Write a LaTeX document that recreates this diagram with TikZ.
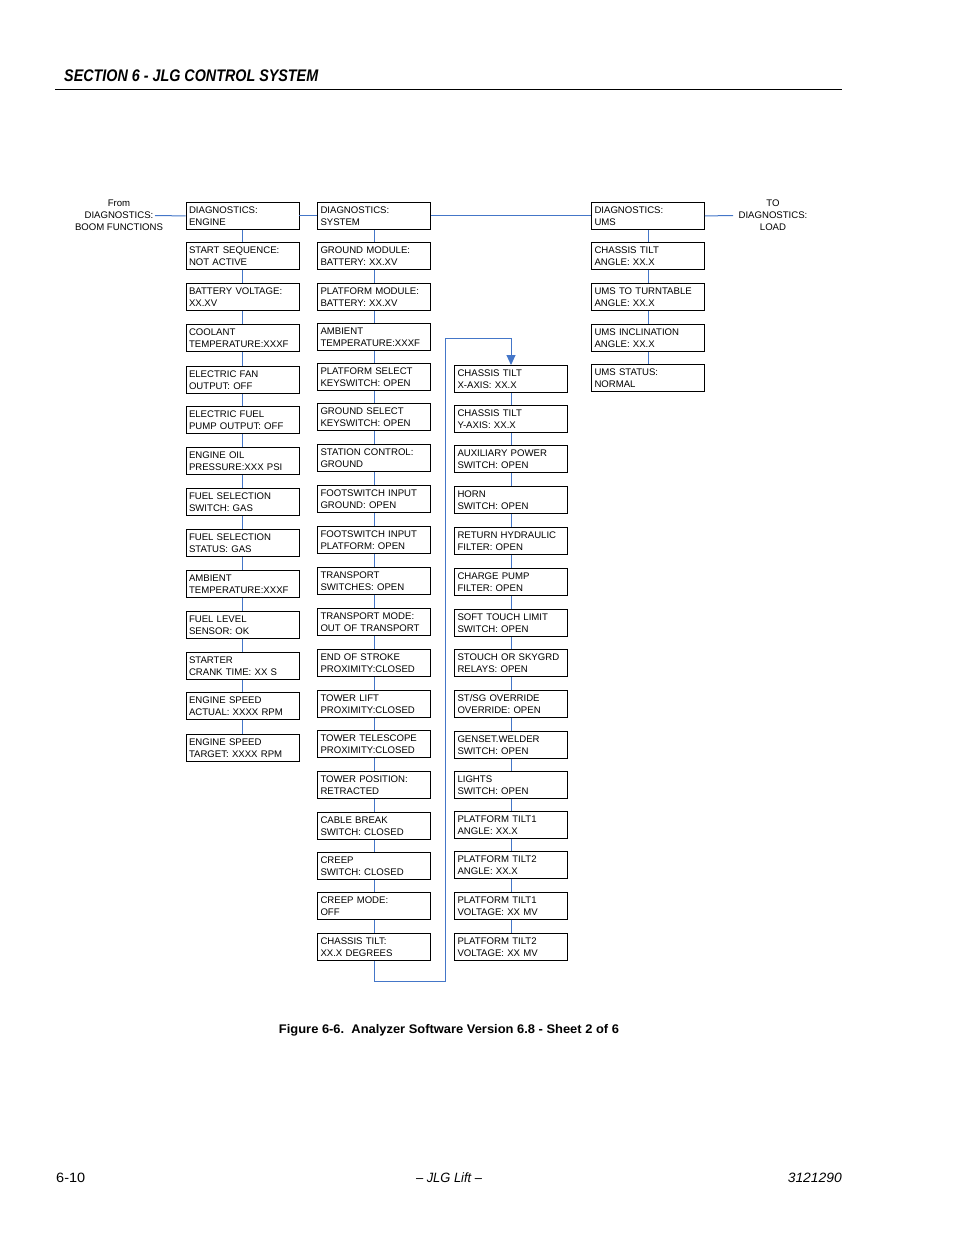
\documentclass[tikz,border=0pt]{standalone}
\usepackage{fontspec}
\setmainfont{Liberation Sans}
\usetikzlibrary{arrows.meta}
\definecolor{linkblue}{RGB}{68,118,200}
\begin{document}
\begin{tikzpicture}[x=1pt,y=-1pt,
  box/.style={draw=black,line width=0.9pt,minimum width=113pt,minimum height=27pt,
    text width=107pt,align=left,inner sep=3pt,font=\fontsize{9.6}{12}\selectfont,anchor=north},
  conn/.style={draw=linkblue,line width=1pt},
  side/.style={align=center,font=\fontsize{9.6}{12}\selectfont}]
\useasboundingbox (0,0) rectangle (954,1235);

% header
\node[anchor=base west,inner sep=0pt] (hdr) at (64,81)
  {\resizebox{254pt}{\height}{\fontsize{16.8}{18}\selectfont\bfseries\itshape SECTION 6 - JLG CONTROL SYSTEM}};
\draw[line width=1pt] (55,89) -- (842,89);

% column 1
\foreach \yy/\t [count=\i] in {
 202/{DIAGNOSTICS:\\ENGINE},
 242/{START SEQUENCE:\\NOT ACTIVE},
 283/{BATTERY VOLTAGE:\\XX.XV},
 324/{COOLANT\\TEMPERATURE:XXXF},
 366/{ELECTRIC FAN\\OUTPUT: OFF},
 406/{ELECTRIC FUEL\\PUMP OUTPUT: OFF},
 447/{ENGINE OIL\\PRESSURE:XXX PSI},
 488/{FUEL SELECTION\\SWITCH: GAS},
 529/{FUEL SELECTION\\STATUS: GAS},
 570/{AMBIENT\\TEMPERATURE:XXXF},
 611/{FUEL LEVEL\\SENSOR: OK},
 652/{STARTER\\CRANK TIME: XX S},
 692/{ENGINE SPEED\\ACTUAL: XXXX RPM},
 734/{ENGINE SPEED\\TARGET: XXXX RPM}}
 \node[box] (a\i) at (242.5,\yy) {\t};

% column 2
\foreach \yy/\t [count=\i] in {
 202/{DIAGNOSTICS:\\SYSTEM},
 242/{GROUND MODULE:\\BATTERY: XX.XV},
 283/{PLATFORM MODULE:\\BATTERY: XX.XV},
 323/{AMBIENT\\TEMPERATURE:XXXF},
 363/{PLATFORM SELECT\\KEYSWITCH: OPEN},
 403/{GROUND SELECT\\KEYSWITCH: OPEN},
 444/{STATION CONTROL:\\GROUND},
 485/{FOOTSWITCH INPUT\\GROUND: OPEN},
 526/{FOOTSWITCH INPUT\\PLATFORM: OPEN},
 567/{TRANSPORT\\SWITCHES: OPEN},
 608/{TRANSPORT MODE:\\OUT OF TRANSPORT},
 649/{END OF STROKE\\PROXIMITY:CLOSED},
 690/{TOWER LIFT\\PROXIMITY:CLOSED},
 730/{TOWER TELESCOPE\\PROXIMITY:CLOSED},
 771/{TOWER POSITION:\\RETRACTED},
 812/{CABLE BREAK\\SWITCH: CLOSED},
 852/{CREEP\\SWITCH: CLOSED},
 892/{CREEP MODE:\\OFF},
 933/{CHASSIS TILT:\\XX.X DEGREES}}
 \node[box] (b\i) at (374,\yy) {\t};

% column 3
\foreach \yy/\t [count=\i] in {
 365/{CHASSIS TILT\\X-AXIS: XX.X},
 405/{CHASSIS TILT\\Y-AXIS: XX.X},
 445/{AUXILIARY POWER\\SWITCH: OPEN},
 486/{HORN\\SWITCH: OPEN},
 527/{RETURN HYDRAULIC\\FILTER: OPEN},
 568/{CHARGE PUMP\\FILTER: OPEN},
 609/{SOFT TOUCH LIMIT\\SWITCH: OPEN},
 649/{STOUCH OR SKYGRD\\RELAYS: OPEN},
 690/{ST/SG OVERRIDE\\OVERRIDE: OPEN},
 731/{GENSET.WELDER\\SWITCH: OPEN},
 771/{LIGHTS\\SWITCH: OPEN},
 811/{PLATFORM TILT1\\ANGLE: XX.X},
 851/{PLATFORM TILT2\\ANGLE: XX.X},
 892/{PLATFORM TILT1\\VOLTAGE: XX MV},
 933/{PLATFORM TILT2\\VOLTAGE: XX MV}}
 \node[box] (c\i) at (511,\yy) {\t};

% column 4
\foreach \yy/\t [count=\i] in {
 202/{DIAGNOSTICS:\\UMS},
 242/{CHASSIS TILT\\ANGLE: XX.X},
 283/{UMS TO TURNTABLE\\ANGLE: XX.X},
 324/{UMS INCLINATION\\ANGLE: XX.X},
 364/{UMS STATUS:\\NORMAL}}
 \node[box] (d\i) at (648,\yy) {\t};

% vertical connectors
\foreach \i [remember=\i as \j (initially 1)] in {2,...,14}
  \draw[conn] (a\j.south) -- (a\i.north);
\foreach \i [remember=\i as \j (initially 1)] in {2,...,19}
  \draw[conn] (b\j.south) -- (b\i.north);
\foreach \i [remember=\i as \j (initially 1)] in {2,...,15}
  \draw[conn] (c\j.south) -- (c\i.north);
\foreach \i [remember=\i as \j (initially 1)] in {2,...,5}
  \draw[conn] (d\j.south) -- (d\i.north);

% horizontal connectors
\draw[conn] (a1.east) -- (b1.west);
\draw[conn] (b1.east) -- (d1.west);

% side labels
\node[side] (from) at (119,215) {From\\DIAGNOSTICS:\\BOOM FUNCTIONS};
\coordinate (fromend) at (155,215.5);
\draw[conn] (fromend) -- (a1.west);
\node[side] (to) at (773,215) {TO\\DIAGNOSTICS:\\LOAD};
\coordinate (toend) at (733,215.5);
\draw[conn] (d1.east) -- (toend);

% loop connector
\coordinate (lpA) at (445,981);
\coordinate (lpB) at (445,338);
\draw[conn,-{Triangle[width=9pt,length=10pt]}] (b19.south) |- (lpA) -- (lpB) -| (c1.north);

% caption
\node[anchor=base,inner sep=0pt] (cap) at (449,1033)
  {\resizebox{340pt}{\height}{\fontsize{12.5}{14}\selectfont\bfseries Figure 6-6.\ \ Analyzer Software Version 6.8 - Sheet 2 of 6}};

% footer
\node[anchor=base west,inner sep=0pt] (pg) at (56,1182)
  {\resizebox{29pt}{\height}{\fontsize{13.5}{15}\selectfont 6-10}};
\node[anchor=base,inner sep=0pt] (mid) at (449,1182)
  {\resizebox{66pt}{\height}{\fontsize{13.5}{15}\selectfont\itshape -- JLG Lift --}};
\node[anchor=base east,inner sep=0pt] (doc) at (842,1182)
  {\resizebox{54pt}{\height}{\fontsize{13.5}{15}\selectfont\itshape 3121290}};
\end{tikzpicture}
\end{document}
